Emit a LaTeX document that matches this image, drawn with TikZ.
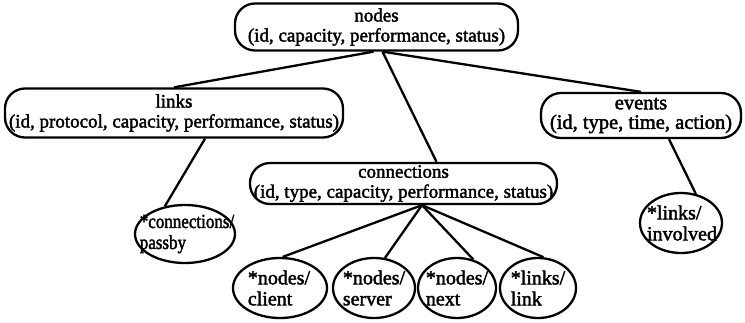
\documentclass[tikz,border=0pt]{standalone}
\usepackage{fontspec}
\setmainfont{Liberation Serif}[BoldFont=Liberation Serif, BoldFeatures={FakeBold=2}]
\usetikzlibrary{shapes.geometric}
\begin{document}
\begin{tikzpicture}[x=1pt,y=-1pt,
  box/.style={draw, line width=2.3pt, rounded corners=20pt, inner sep=0pt, align=center, font=\fontsize{19}{20}\selectfont\bfseries},
  ell/.style={draw, ellipse, line width=2.3pt, inner sep=0pt},
  txt/.style={inner sep=0pt, align=left, font=\fontsize{20}{21}\selectfont\bfseries},
  con/.style={line width=2.3pt}]
\useasboundingbox (0,0) rectangle (745,322);
% rounded boxes
\node[box, minimum width=283pt, minimum height=47pt] (nodes) at (376.5,27) {nodes\\(id, capacity, performance, status)};
\node[box, minimum width=338pt, minimum height=49pt] (links) at (174,113) {links\\(id, protocol, capacity, performance, status)};
\node[box, minimum width=200pt, minimum height=45pt, font=\fontsize{20.5}{19.5}\selectfont\bfseries] (events) at (641,115.5) {events\\(id, type, time, action)};
\node[box, minimum width=307pt, minimum height=41pt] (connections) at (403.5,183.5) {connections\\(id, type, capacity, performance, status)};
% ellipses
\node[ell, minimum width=100pt, minimum height=58pt] (passby) at (185,234) {};
\node[txt] (passbyT) at (187,234) {\scalebox{0.85}[1]{*connections/}\\\scalebox{0.85}[1]{passby}};
\node[ell, minimum width=82pt, minimum height=60pt] (involved) at (681,223) {};
\node[txt] (involvedT) at (682,223) {*links/\\involved};
\node[ell, minimum width=94pt, minimum height=60pt] (client) at (280,288) {};
\node[txt] (clientT) at (279,288) {*nodes/\\client};
\node[ell, minimum width=82pt, minimum height=60pt] (server) at (374,288) {};
\node[txt] (serverT) at (374,288) {*nodes/\\server};
\node[ell, minimum width=78pt, minimum height=60pt] (next) at (457,288) {};
\node[txt] (nextT) at (457,288) {*nodes/\\next};
\node[ell, minimum width=76pt, minimum height=60pt] (link) at (538,288) {};
\node[txt] (linkT) at (538,288) {*links/\\link};
% connectors
\draw[con] ([xshift=-3pt]nodes.south) -- (links.north);
\draw[con] ([xshift=6pt]nodes.south) -- ([xshift=33pt]connections.north);
\draw[con] ([xshift=6pt]nodes.south) -- (events.north);
\draw[con] ([xshift=31pt]links.south) -- (passby.126);
\draw[con] ([xshift=28pt]events.south) -- (involved.63);
\draw[con] ([xshift=18.5pt]connections.south) -- (client.85);
\draw[con] ([xshift=18.5pt]connections.south) -- (server.70);
\draw[con] ([xshift=18.5pt]connections.south) -- (next.60);
\draw[con] ([xshift=18.5pt]connections.south) -- (link.80);
\end{tikzpicture}
\end{document}
